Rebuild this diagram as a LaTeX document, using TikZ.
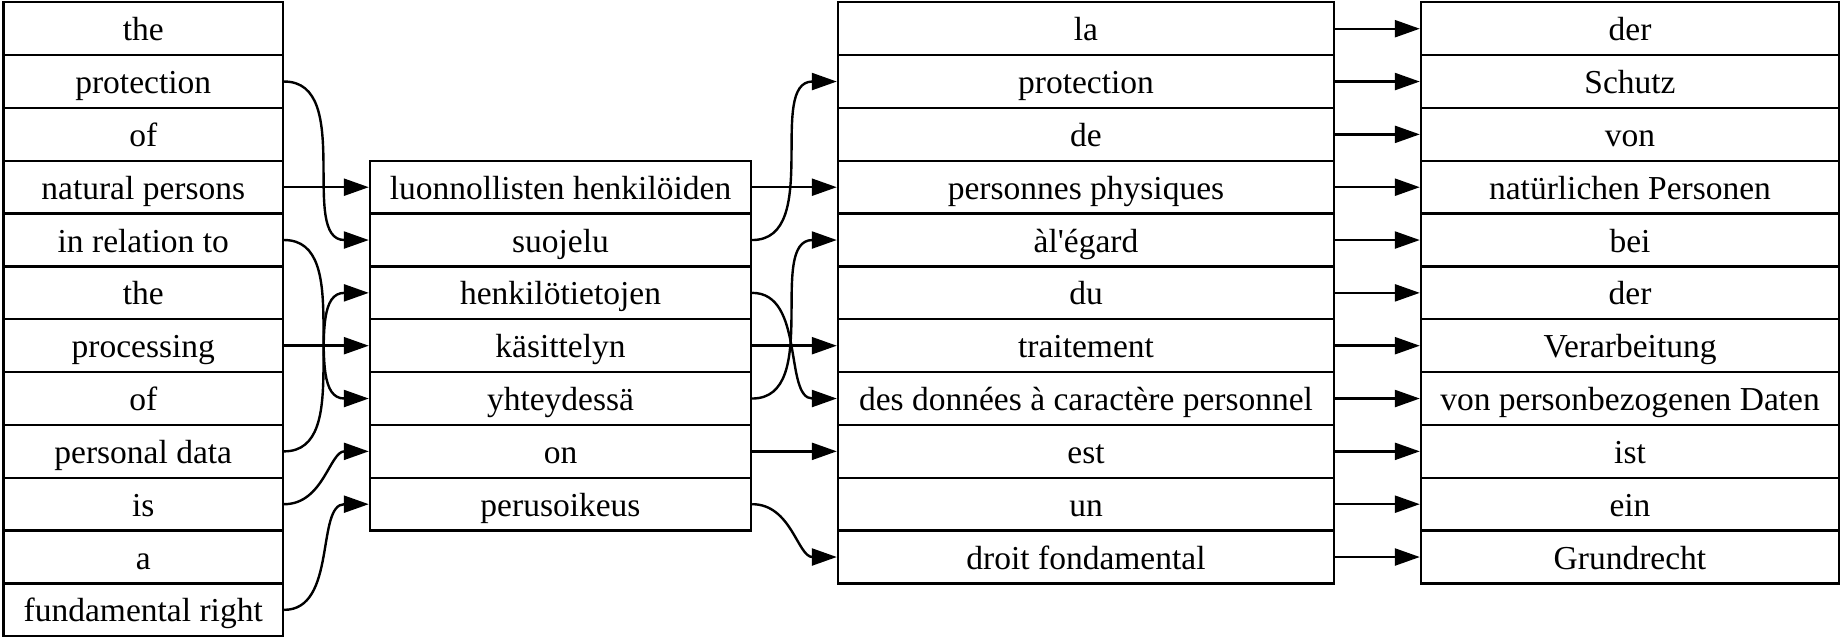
\documentclass[tikz,border=0pt]{standalone}
\usepackage{fontspec}
\setmainfont{Liberation Serif}
\usetikzlibrary{arrows.meta}
\begin{document}
\begin{tikzpicture}[x=1pt,y=-1pt,
  cell/.style={draw, line width=2.4pt, minimum height=52.83pt, inner sep=0pt,
    font=\fontsize{33.5}{40}\selectfont, text height=24pt, text depth=0pt},
  colA/.style={cell, minimum width=279.5pt},
  colB/.style={cell, minimum width=381pt},
  colC/.style={cell, minimum width=496pt},
  colD/.style={cell, minimum width=418pt},
  link/.style={line width=2.4pt, -{Triangle[length=25pt,width=17pt]}}
]
\fill[white] (0,0) rectangle (1841,639);
\useasboundingbox (0,0) rectangle (1841,639);
% English
\foreach \t [count=\i from 0] in {the,protection,of,natural persons,in relation to,the,processing,of,personal data,is,a,fundamental right}
  \node[colA] (e\i) at (143.25,{2.3+52.83*(\i+0.5)}) {\t};
% Finnish
\foreach \t [count=\i from 0] in {luonnollisten henkilöiden,suojelu,henkilötietojen,käsittelyn,yhteydessä,on,perusoikeus}
  \node[colB] (f\i) at (560.5,{2.3+52.83*(\i+3.5)}) {\t};
% French
\foreach \t [count=\i from 0] in {la,protection,de,personnes physiques,àl\textquotesingle égard,du,traitement,des données à caractère personnel,est,un,droit fondamental}
  \node[colC] (r\i) at (1086,{2.3+52.83*(\i+0.5)}) {\t};
% German
\foreach \t [count=\i from 0] in {der,Schutz,von,natürlichen Personen,bei,der,Verarbeitung,von personbezogenen Daten,ist,ein,Grundrecht}
  \node[colD] (g\i) at (1630,{2.3+52.83*(\i+0.5)}) {\t};
% English -> Finnish
\draw[link] (e1.east) to[out=0,in=180] (f1.west);
\draw[link] (e3.east) -- (f0.west);
\draw[link] (e4.east) to[out=0,in=180] (f4.west);
\draw[link] (e6.east) -- (f3.west);
\draw[link] (e8.east) to[out=0,in=180] (f2.west);
\draw[link] (e9.east) to[out=0,in=180] (f5.west);
\draw[link] (e11.east) to[out=0,in=180] (f6.west);
% Finnish -> French
\draw[link] (f0.east) -- (r3.west);
\draw[link] (f1.east) to[out=0,in=180] (r1.west);
\draw[link] (f2.east) to[out=0,in=180] (r7.west);
\draw[link] (f3.east) -- (r6.west);
\draw[link] (f4.east) to[out=0,in=180] (r4.west);
\draw[link] (f5.east) -- (r8.west);
\draw[link] (f6.east) to[out=0,in=180] (r10.west);
% French -> German
\foreach \i in {0,...,10}
  \draw[link] (r\i.east) -- (g\i.west);
\end{tikzpicture}
\end{document}
